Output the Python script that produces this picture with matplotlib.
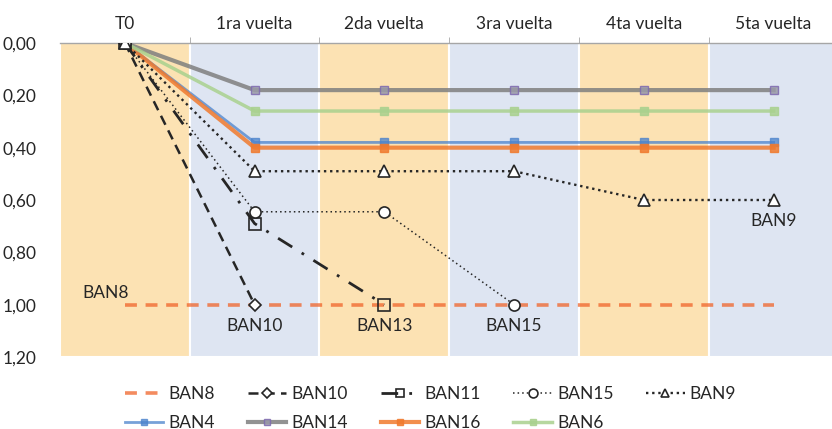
import numpy as np
import matplotlib.pyplot as plt

plt.rcParams['font.family'] = ['Lato', 'DejaVu Sans']

rondas = ["T0", "1ra vuelta", "2da vuelta", "3ra vuelta", "4ta vuelta", "5ta vuelta"]
ytick_vals = [0.0, 0.2, 0.4, 0.6, 0.8, 1.0, 1.2]

# valores por muestra (None = sin dato en esa vuelta)
ban8 = [1.00, 1.00, 1.00, 1.00, 1.00, 1.00]
ban10 = [0.00, 1.00, None, None, None, None]
ban11 = [0.00, 0.69, 1.00, None, None, None]
ban15 = [0.00, 0.645, 0.645, 1.00, None, None]
ban9 = [0.00, 0.49, 0.49, 0.49, 0.60, 0.60]
ban4 = [0.00, 0.38, 0.38, 0.38, 0.38, 0.38]
ban14 = [0.00, 0.18, 0.18, 0.18, 0.18, 0.18]
ban16 = [0.00, 0.40, 0.40, 0.40, 0.40, 0.40]
ban6 = [0.00, 0.26, 0.26, 0.26, 0.26, 0.26]

# etiquetas sobre el grafico: (texto, vuelta, valor)
etiquetas = [("BAN8", -0.15, 0.955), ("BAN10", 1, 1.08), ("BAN13", 2, 1.08),
             ("BAN15", 3, 1.08), ("BAN9", 5, 0.68)]


def serie(vals):
    return np.array([np.nan if v is None else v for v in vals], dtype=float)


x = np.arange(len(rondas))

fig = plt.figure(figsize=(8.32, 4.29), dpi=100)
ax = fig.add_axes([60 / 832, 1 - 357 / 429, 772 / 832, 314 / 429])

# franjas de fondo alternas
for i in range(len(rondas)):
    color = "#FCE2B3" if i % 2 == 0 else "#DEE5F2"
    ax.axvspan(i - 0.5, i + 0.5, facecolor=color, edgecolor="white", lw=1.5, zorder=0)

dark = "#262626"
lineas = {}
lineas["BAN8"], = ax.plot(x, serie(ban8), ls=(0, (3.3, 2.4)), lw=2.6, color="#F0642A",
                          alpha=0.75, label="BAN8", zorder=2)
lineas["BAN10"], = ax.plot(x, serie(ban10), ls=(0, (4, 2.5)), lw=1.8, color=dark, marker="D",
                           ms=6, mfc="white", mec=dark, mew=1.2, label="BAN10", zorder=4)
lineas["BAN11"], = ax.plot(x, serie(ban11), ls=(0, (6, 4, 1, 4)), lw=2.0, color=dark, marker="s",
                           ms=8, mfc="none", mec=dark, mew=1.2, label="BAN11", zorder=4)
lineas["BAN15"], = ax.plot(x, serie(ban15), ls=(0, (1, 2)), lw=1.1, color=dark, marker="o",
                           ms=8, mfc="white", mec=dark, mew=1.2, label="BAN15", zorder=4)
lineas["BAN9"], = ax.plot(x, serie(ban9), ls=(0, (1, 1.6)), lw=1.7, color=dark, marker="^",
                          ms=8, mfc="white", mec=dark, mew=1.2, label="BAN9", zorder=4)
lineas["BAN4"], = ax.plot(x, serie(ban4), lw=2.0, color="#4A82CC", alpha=0.75, marker="s",
                          ms=6, label="BAN4", zorder=3)
lineas["BAN14"], = ax.plot(x, serie(ban14), lw=3.0, color="#7F7F7F", alpha=0.85, marker="s",
                           ms=6, mfc="#9A9AA8", mec="#7E6AB0", label="BAN14", zorder=3)
lineas["BAN16"], = ax.plot(x, serie(ban16), lw=3.0, color="#F07A2E", alpha=0.85, marker="s",
                           ms=6, label="BAN16", zorder=3)
lineas["BAN6"], = ax.plot(x, serie(ban6), lw=2.5, color="#A9D18E", alpha=0.85, marker="s",
                          ms=6, label="BAN6", zorder=3)

for texto, xi, yi in etiquetas:
    ax.text(xi, yi, texto, ha="center", va="center", fontsize=12.5, color=dark, zorder=5)

ax.set_xlim(-0.5, 5.45)
ax.set_ylim(1.2, 0.0)
ax.set_yticks(ytick_vals)
ax.set_yticklabels([f"{v:.2f}".replace(".", ",") for v in ytick_vals], fontsize=12.5,
                   color=dark)
ax.tick_params(axis="y", length=0, pad=17)

ax.xaxis.tick_top()
ax.set_xticks(x)
ax.set_xticklabels(rondas, fontsize=12.5, color=dark)
ax.set_xticks(np.arange(0.5, 5.5, 1.0), minor=True)
ax.tick_params(axis="x", which="major", length=0, pad=8)
ax.tick_params(axis="x", which="minor", length=4, color="#A6A6A6", direction="out")

for side in ["left", "right", "bottom"]:
    ax.spines[side].set_visible(False)
ax.spines["top"].set_color("#A6A6A6")
ax.spines["top"].set_linewidth(1.0)

# leyenda por filas: el orden sigue el llenado por columnas de matplotlib
orden = ["BAN8", "BAN4", "BAN10", "BAN14", "BAN11", "BAN16", "BAN15", "BAN6", "BAN9"]
fig.legend([lineas[k] for k in orden], orden, loc="lower left",
           bbox_to_anchor=(118 / 832, -0.02), ncol=5, frameon=False,
           fontsize=12.5, handlelength=2.2, columnspacing=1.9, handletextpad=0.3,
           labelspacing=0.7, borderaxespad=0.0, labelcolor=dark, markerscale=0.8)

fig.savefig("out.png", dpi=100)
